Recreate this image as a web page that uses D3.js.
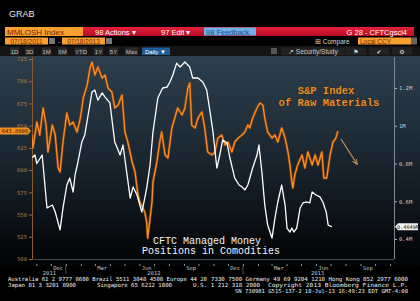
<!DOCTYPE html>
<html><head><meta charset="utf-8">
<script src="https://cdn.jsdelivr.net/npm/d3@7"></script>
<style>
html,body{margin:0;padding:0;background:#000;overflow:hidden}
svg{display:block}
</style></head><body>
<svg id="c" width="420" height="301"></svg>
<script>
// ---- data ----
const rawMatDates = ["2011-10-23","2011-10-25","2011-11-02","2011-11-08","2011-11-15","2011-11-21","2011-11-25","2011-12-04","2011-12-10","2011-12-16","2011-12-20","2011-12-26","2012-01-03","2012-01-09","2012-01-16","2012-01-24","2012-01-31","2012-02-06","2012-02-14","2012-02-20","2012-02-24","2012-03-01","2012-03-07","2012-03-16","2012-03-22","2012-03-28","2012-04-05","2012-04-11","2012-04-18","2012-04-26","2012-05-02","2012-05-08","2012-05-17","2012-05-23","2012-05-29","2012-06-02","2012-06-08","2012-06-12","2012-06-16","2012-06-18","2012-06-27","2012-06-29","2012-07-07","2012-07-13","2012-07-17","2012-07-24","2012-07-30","2012-08-07","2012-08-13","2012-08-19","2012-08-28","2012-09-03","2012-09-09","2012-09-13","2012-09-17","2012-09-24","2012-09-30","2012-10-08","2012-10-14","2012-10-20","2012-10-29","2012-11-04","2012-11-10","2012-11-18","2012-11-25","2012-12-01","2012-12-09","2012-12-15","2012-12-22","2012-12-30","2013-01-05","2013-01-11","2013-01-15","2013-01-21","2013-01-30","2013-02-05","2013-02-11","2013-02-15","2013-02-21","2013-03-02","2013-03-08","2013-03-14","2013-03-22","2013-03-29","2013-04-04","2013-04-08","2013-04-12","2013-04-14","2013-04-18","2013-04-24","2013-05-03","2013-05-09","2013-05-15","2013-05-24","2013-05-30","2013-06-05","2013-06-13","2013-06-17","2013-06-23","2013-06-30","2013-07-06","2013-07-12","2013-07-16"];
const rawMatValues = [639.5,624.9,654.1,639.5,669.9,650.8,620.4,650.8,639.5,602.4,597.9,631.6,664.3,650.8,654.1,642.9,658.6,681.1,695.8,714.9,721.6,707,716,703.6,707,692.4,687.9,669.9,673.3,684.5,642.9,631.6,609.1,597.9,572,564.1,557.4,552.9,541.6,523.6,564.1,586.6,609.1,631.6,642.9,617,613.6,647.4,658.6,669.9,662,669.9,692.4,698,650.8,647.4,658.6,665.4,647.4,620.4,617,620.4,636.1,639.5,628.3,631.6,620.4,631.6,636.1,639.5,642.9,650.8,647.4,658.6,669.9,675.5,673.3,658.6,642.9,636.1,639.5,631.6,647.4,636.1,620.4,605.8,586.6,579.9,594.5,605.8,617,602.4,620.4,605.8,617,605.8,620.4,591.1,591.1,617,631.6,636.1,643.9];
const cftcDates = ["2011-10-23","2011-10-29","2011-11-02","2011-11-13","2011-11-23","2011-12-04","2011-12-10","2011-12-20","2011-12-26","2012-01-03","2012-01-09","2012-01-16","2012-01-20","2012-01-26","2012-02-03","2012-02-09","2012-02-16","2012-02-24","2012-03-01","2012-03-07","2012-03-16","2012-03-22","2012-04-01","2012-04-11","2012-04-22","2012-04-28","2012-05-13","2012-05-19","2012-05-27","2012-06-06","2012-06-12","2012-06-16","2012-06-23","2012-06-29","2012-07-09","2012-07-19","2012-07-28","2012-08-03","2012-08-09","2012-08-17","2012-08-24","2012-09-03","2012-09-13","2012-09-19","2012-09-30","2012-10-10","2012-10-18","2012-10-25","2012-10-31","2012-11-08","2012-11-14","2012-11-20","2012-11-29","2012-12-05","2012-12-15","2012-12-24","2012-12-30","2013-01-05","2013-01-11","2013-01-21","2013-01-30","2013-02-03","2013-02-09","2013-02-15","2013-02-21","2013-03-02","2013-03-08","2013-03-14","2013-03-22","2013-03-29","2013-04-02","2013-04-08","2013-04-12","2013-04-16","2013-04-22","2013-04-29","2013-05-05","2013-05-13","2013-05-19","2013-05-24","2013-06-01","2013-06-09","2013-06-15","2013-06-22","2013-06-26","2013-07-04"];
const cftcValues = [0.83,0.845,0.80,0.845,0.564,0.58,0.543,0.448,0.564,0.686,0.723,0.649,0.739,0.808,0.914,0.951,1.057,1.179,1.189,1.136,1.174,1.152,1.121,0.914,0.845,0.898,0.617,0.676,0.633,0.543,0.617,0.670,0.792,0.967,1.147,1.200,1.205,1.232,1.269,1.332,1.311,1.338,1.311,1.253,1.253,1.232,1.189,1.073,0.967,0.776,0.845,0.924,0.909,0.829,0.723,0.686,0.676,0.660,0.686,0.776,0.845,0.898,0.755,0.580,0.474,0.405,0.511,0.596,0.686,0.580,0.458,0.437,0.458,0.437,0.458,0.564,0.591,0.596,0.591,0.649,0.633,0.623,0.596,0.543,0.474,0.465];
const leftTicks = [500,525,550,575,600,625,650,675,700,725];
const rightTicks = [0.4,0.6,0.8,1.0,1.2];
const rightTickLabels = ["0.4M","0.6M","0.8M","1M","1.2M"];
const monthLabelDates = ["2011-12-16","2012-03-16","2012-06-16","2012-09-16","2012-12-16","2013-03-16","2013-06-16","2013-09-16"];
const monthLabels = ["Dec","Mar","Jun","Sep","Dec","Mar","Jun","Sep"];
const yearLabelDates = ["2011-11-28","2012-07-01","2013-06-04"];
const yearLabels = ["2011","2012","2013"];
const lastRawMat = "643.8906";
const lastCftc = "0.4649M";

// ---- drawing ----
const svg = d3.select("#c");
const parse = d3.timeParse("%Y-%m-%d");
const W = 420, H = 301;
const plot = {left: 32, right: 394, top: 57, bottom: 259};

const defs = svg.append("defs");
const bg = defs.append("linearGradient").attr("id","bg").attr("x1",0).attr("y1",0).attr("x2",0).attr("y2",1);
[[0,"#2d3e4c"],[0.35,"#202e3a"],[0.65,"#121b23"],[0.88,"#070a0d"],[1,"#020304"]].forEach(s=>bg.append("stop").attr("offset",s[0]).attr("stop-color",s[1]));
const redG = defs.append("linearGradient").attr("id","red").attr("x1",0).attr("y1",0).attr("x2",0).attr("y2",1);
[[0,"#e8203a"],[1,"#b50c24"]].forEach(s=>redG.append("stop").attr("offset",s[0]).attr("stop-color",s[1]));
defs.append("clipPath").attr("id","clip").append("rect")
  .attr("x",plot.left).attr("y",plot.top).attr("width",plot.right-plot.left).attr("height",plot.bottom-plot.top);
const mk = defs.append("marker").attr("id","ah").attr("viewBox","0 0 10 10").attr("refX",8).attr("refY",5)
  .attr("markerWidth",5).attr("markerHeight",5).attr("orient","auto");
mk.append("path").attr("d","M0,1 L9,5 L0,9").attr("fill","none").attr("stroke","#c49060").attr("stroke-width",1.6);

svg.append("rect").attr("width",W).attr("height",H).attr("fill","#000");
svg.append("rect").attr("x",0).attr("y",56).attr("width",W).attr("height",210).attr("fill","url(#bg)");

// header
const hf = "Liberation Sans, Arial, sans-serif";
svg.append("text").attr("x",9).attr("y",17).attr("fill","#e8e8e8").attr("font-family",hf).attr("font-size",9).text("GRAB");
svg.append("rect").attr("x",5).attr("y",27).attr("width",78).attr("height",9).attr("fill","#f6a031");
svg.append("text").attr("x",7).attr("y",34.6).attr("fill","#7a1e08").attr("font-family",hf).attr("font-size",8).text("MMLOSH Index");
svg.append("rect").attr("x",83).attr("y",27).attr("width",331).attr("height",9).attr("fill","url(#red)");
svg.append("text").attr("x",95).attr("y",34.6).attr("fill","#fff").attr("font-family",hf).attr("font-size",7.5).text("98 Actions \u25BE");
svg.append("text").attr("x",161).attr("y",34.6).attr("fill","#fff").attr("font-family",hf).attr("font-size",7.5).text("97 Edit \u25BE");
svg.append("rect").attr("x",204).attr("y",27.5).attr("width",52).attr("height",8).attr("fill","#6fb0e6");
svg.append("text").attr("x",206).attr("y",34.6).attr("fill","#1d4f86").attr("font-family",hf).attr("font-size",7.5).text("98 Feedback");
svg.append("text").attr("x",407).attr("y",34.6).attr("text-anchor","end").attr("fill","#fff").attr("font-family",hf).attr("font-size",7.5).text("G 28 - CFTCgsci4");

// row 2
svg.append("rect").attr("x",5).attr("y",37.5).attr("width",43).attr("height",7).attr("fill","#f6a031");
svg.append("text").attr("x",26.5).attr("y",43.5).attr("text-anchor","middle").attr("fill","#7a1e08").attr("font-family",hf).attr("font-size",6.5).text("07/18/2011");
svg.append("rect").attr("x",49).attr("y",38).attr("width",6).attr("height",6).attr("fill","#777");
svg.append("text").attr("x",58).attr("y",43.5).attr("fill","#ccc").attr("font-family",hf).attr("font-size",6.5).text("-");
svg.append("rect").attr("x",62).attr("y",37.5).attr("width",43).attr("height",7).attr("fill","#f6a031");
svg.append("text").attr("x",83.5).attr("y",43.5).attr("text-anchor","middle").attr("fill","#7a1e08").attr("font-family",hf).attr("font-size",6.5).text("07/18/2013");
svg.append("rect").attr("x",106).attr("y",38).attr("width",6).attr("height",6).attr("fill","#777");
svg.append("text").attr("x",315).attr("y",43.5).attr("fill","#d8d8d8").attr("font-family",hf).attr("font-size",6.5).text("\u229E Compare");
svg.append("rect").attr("x",358).attr("y",37.5).attr("width",53).attr("height",7).attr("fill","#f6a031");
svg.append("text").attr("x",360).attr("y",43.5).attr("fill","#7a1e08").attr("font-family",hf).attr("font-size",6.5).text("Local CCY");
svg.append("rect").attr("x",411).attr("y",37.5).attr("width",6).attr("height",7).attr("fill","#666");

// row 3
svg.append("rect").attr("x",0).attr("y",46).attr("width",W).attr("height",10).attr("fill","#151515");
const btns = [["1D",10,9],["3D",25,9],["1M",42,9],["6M",58,9],["YTD",75,12],["1Y",94,9],["5Y",109,9],["Max",125,13]];
btns.forEach(b=>{
  svg.append("rect").attr("x",b[1]).attr("y",47.5).attr("width",b[2]).attr("height",7.5).attr("fill","#2b2b2b");
  svg.append("text").attr("x",b[1]+b[2]/2).attr("y",53.6).attr("text-anchor","middle").attr("fill","#bbb").attr("font-family",hf).attr("font-size",6).text(b[0]);
});
svg.append("rect").attr("x",142).attr("y",47.5).attr("width",28).attr("height",7.5).attr("fill","#1f5d9c");
svg.append("text").attr("x",145).attr("y",53.6).attr("fill","#fff").attr("font-family",hf).attr("font-size",6).text("Daily \u25BC");
svg.append("rect").attr("x",271).attr("y",48).attr("width",6).attr("height",6).attr("fill","#555");
svg.append("rect").attr("x",281).attr("y",47.5).attr("width",64).attr("height",7.5).attr("fill","#222");
svg.append("text").attr("x",288).attr("y",53.6).attr("fill","#ccc").attr("font-family",hf).attr("font-size",6.5).text("\u2197 Security/Study");
[[352,"\u2691"],[375,"\u2714"],[398,"\u2699"]].forEach(b=>{
  svg.append("rect").attr("x",b[0]-6).attr("y",47.5).attr("width",20).attr("height",7.5).attr("fill","#222");
  svg.append("text").attr("x",b[0]+4).attr("y",53.8).attr("text-anchor","middle").attr("fill","#ddd").attr("font-family","DejaVu Sans").attr("font-size",6).text(b[1]);
});

// scales
const x = d3.scaleTime().domain([parse("2011-10-23"), parse("2013-11-07")]).range([32, 393]);
const yL = d3.scaleLinear().domain([500,725]).range([259,59]);
const yR = d3.scaleLinear().domain([0.4,1.2]).range([239,88]);

// frame
svg.append("line").attr("x1",plot.left).attr("x2",plot.right).attr("y1",plot.bottom+0.5).attr("y2",plot.bottom+0.5).attr("stroke","#6a7580").attr("stroke-width",0.6);

// left axis
const gL = svg.append("g").attr("transform",`translate(${plot.left},0)`);
gL.call(d3.axisLeft(yL).tickValues(d3.range(500,726,5)).tickSize(1.5).tickFormat(""));
gL.call(d3.axisLeft(yL).tickValues(leftTicks).tickSize(3).tickPadding(2).tickFormat(d3.format("d")));
gL.selectAll(".domain").remove();
gL.append("line").attr("x1",0.5).attr("x2",0.5).attr("y1",plot.top).attr("y2",plot.bottom).attr("stroke","#8a5a2c");
gL.selectAll(".tick line").attr("stroke","#a0683a");
gL.selectAll("text").attr("fill","#b27b48").attr("font-family","DejaVu Sans Mono, monospace").attr("font-size",5.5);

// right axis
const gR = svg.append("g").attr("transform",`translate(${plot.right},0)`);
gR.call(d3.axisRight(yR).tickValues(d3.range(0.3,1.36,0.1)).tickSize(2).tickFormat(""));
gR.call(d3.axisRight(yR).tickValues(rightTicks).tickSize(3).tickPadding(2).tickFormat((d,i)=>rightTickLabels[i]));
gR.selectAll(".domain").remove();
gR.append("line").attr("x1",0.5).attr("x2",0.5).attr("y1",plot.top).attr("y2",plot.bottom).attr("stroke","#7d8a96");
gR.selectAll(".tick line").attr("stroke","#aab4be");
gR.selectAll("text").attr("fill","#c4ccd4").attr("font-family","DejaVu Sans Mono, monospace").attr("font-size",5.5);

// bottom axis
const gB = svg.append("g").attr("transform","translate(0,264)");
gB.call(d3.axisBottom(x).ticks(d3.timeMonth.every(1)).tickSize(2).tickFormat(""));
gB.selectAll(".domain").remove();
gB.selectAll(".tick line").attr("stroke","#8a949e");
gB.selectAll(".ml").data(monthLabelDates).enter().append("text")
  .attr("x",d=>x(parse(d))).attr("y",5.5).attr("text-anchor","middle")
  .attr("fill","#c0c6cc").attr("font-family","DejaVu Sans Mono, monospace").attr("font-size",5.5)
  .text((d,i)=>monthLabels[i]);
gB.selectAll(".yl").data(yearLabelDates).enter().append("text")
  .attr("x",d=>x(parse(d))).attr("y",11).attr("text-anchor","middle")
  .attr("fill","#c0c6cc").attr("font-family","DejaVu Sans Mono, monospace").attr("font-size",5.5)
  .text((d,i)=>yearLabels[i]);
gB.selectAll(".ys").data(["2012-01-01","2013-01-01"]).enter().append("line")
  .attr("x1",d=>x(parse(d))).attr("x2",d=>x(parse(d))).attr("y1",1).attr("y2",10)
  .attr("stroke","#8a949e").attr("stroke-width",0.6);

// lines
const plotG = svg.append("g").attr("clip-path","url(#clip)");
const rawPts = rawMatDates.map((d,i)=>[parse(d), rawMatValues[i]]);
const cftcPts = cftcDates.map((d,i)=>[parse(d), cftcValues[i]]);
const lineL = d3.line().x(d=>x(d[0])).y(d=>yL(d[1]));
const lineR = d3.line().x(d=>x(d[0])).y(d=>yR(d[1]));
plotG.append("path").attr("d",lineL(rawPts)).attr("fill","none").attr("stroke","#8a3f0c").attr("stroke-width",2.8).attr("stroke-opacity",0.7).attr("stroke-linejoin","round");
plotG.append("path").attr("d",lineL(rawPts)).attr("fill","none").attr("stroke","#f68c22").attr("stroke-width",1.4).attr("stroke-linejoin","round");
plotG.append("path").attr("d",lineR(cftcPts)).attr("fill","none").attr("stroke","#ffffff").attr("stroke-width",1.3).attr("stroke-linejoin","round");

// last value labels
const ly = yL(rawMatValues[rawMatValues.length-1]);
svg.append("path").attr("d",`M0,${ly-3.5} L28,${ly-3.5} L31,${ly} L28,${ly+3.5} L0,${ly+3.5} Z`).attr("fill","#f0901f");
svg.append("text").attr("x",15).attr("y",ly+2).attr("text-anchor","middle").attr("fill","#4a1800").attr("font-family","DejaVu Sans Mono, monospace").attr("font-size",5.5).text(lastRawMat);
const ry = yR(cftcValues[cftcValues.length-1]);
svg.append("path").attr("d",`M395,${ry} L398,${ry-3.5} L418,${ry-3.5} L418,${ry+3.5} L398,${ry+3.5} Z`).attr("fill","#f2f2f2");
svg.append("text").attr("x",408).attr("y",ry+2).attr("text-anchor","middle").attr("fill","#111").attr("font-family","DejaVu Sans Mono, monospace").attr("font-size",5.2).text(lastCftc);

// annotations
const af = "Liberation Mono, Courier New, monospace";
[["S&P Index",326,94],["of Raw Materials",329,105.5]].forEach(t=>{
  svg.append("text").attr("x",t[1]).attr("y",t[2]).attr("text-anchor","middle").attr("fill","#e0902e")
    .attr("stroke","#3a1a00").attr("stroke-width",0.6).attr("paint-order","stroke")
    .attr("font-family",af).attr("font-weight","bold").attr("font-size",10.5).text(t[0]);
});
svg.append("line").attr("x1",341).attr("y1",139).attr("x2",357).attr("y2",164).attr("stroke","#c49060").attr("stroke-width",1.2).attr("marker-end","url(#ah)");
[["CFTC Managed Money",207,244],["Positions in Comodities",211,254]].forEach(t=>{
  svg.append("text").attr("x",t[1]).attr("y",t[2]).attr("text-anchor","middle").attr("fill","#f4f4f4")
    .attr("font-family",af).attr("font-size",10).text(t[0]);
});

// footer
const ff = "DejaVu Sans Mono, monospace";
const foot = [
  ["Australia 61 2 9777 8600 Brazil 5511 3048 4500 Europe 44 20",8,281,199,5.6],
  ["7330 7500 Germany 49 69 9204 1210 Hong Kong 852 2977 6000",211,281,197,5.6],
  ["Japan 81 3 3201 8900",8,287,68,5.6],
  ["Singapore 65 6212 1000",97,287,75,5.6],
  ["U.S. 1 212 318 2000",193,287,67,5.6],
  ["Copyright 2013 Bloomberg Finance L.P.",268,287,140,5.6],
  ["SN 730981 G515-137-2 18-Jul-13 16:49:23 EDT  GMT-4:00",235,293,173,5.4]
];
foot.forEach(f=>{
  svg.append("text").attr("x",f[1]).attr("y",f[2]).attr("fill","#f0f0f0").attr("font-family",ff).attr("font-size",f[4])
    .attr("textLength",f[3]).attr("lengthAdjust","spacingAndGlyphs").text(f[0]);
});
</script>
</body></html>
